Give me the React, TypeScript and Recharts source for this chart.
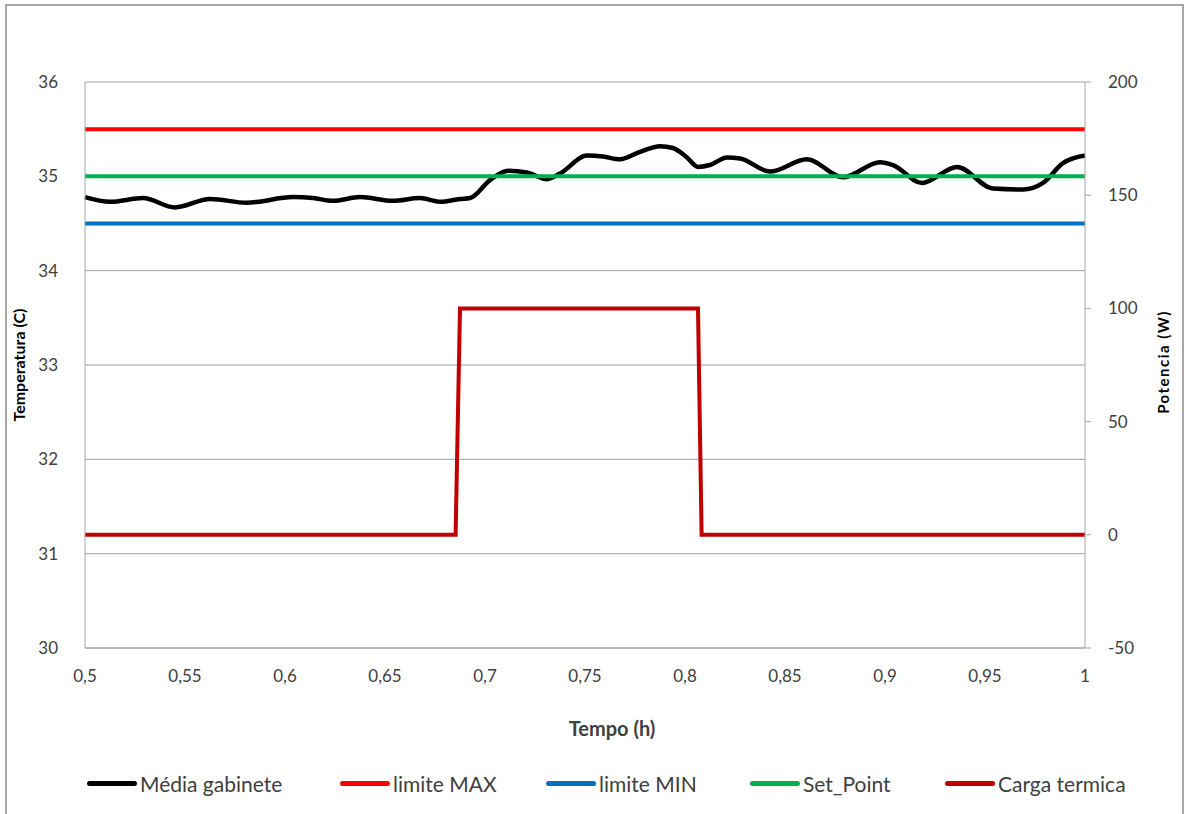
import React from 'react';
import {
  LineChart,
  Line,
  XAxis,
  YAxis,
  CartesianGrid,
  Legend,
} from 'recharts';

// Tempo (h) / temperatura média do gabinete (C)
const mediaTempo = [
  0.5, 0.5125, 0.529, 0.545, 0.5625, 0.581, 0.604, 0.614, 0.624, 0.6375, 0.654, 0.6675,
  0.6775, 0.6875, 0.6925, 0.7025, 0.7115, 0.721, 0.731, 0.7375, 0.751, 0.759, 0.7675,
  0.7775, 0.7875, 0.794, 0.801, 0.8065, 0.8125, 0.821, 0.8275, 0.8425, 0.861, 0.879,
  0.8975, 0.904, 0.9185, 0.936, 0.954, 0.969, 0.979, 0.989, 1.0,
];
const mediaValores = [
  34.78, 34.73, 34.77, 34.67, 34.76, 34.72, 34.78, 34.77, 34.74, 34.78, 34.74, 34.77,
  34.73, 34.76, 34.77, 34.96, 35.06, 35.04, 34.97, 35.03, 35.22, 35.21, 35.18,
  35.26, 35.32, 35.3, 35.2, 35.1, 35.12, 35.2, 35.19, 35.05, 35.18, 34.99,
  35.15, 35.12, 34.93, 35.1, 34.87, 34.86, 34.93, 35.14, 35.22,
];

// Carga termica (W)
const cargaTempo = [0.5, 0.6853, 0.6875, 0.8065, 0.8083, 1.0];
const cargaValores = [0, 0, 100, 100, 0, 0];

const limiteTempo = [0.5, 1.0];
const limiteMax = 35.5;
const limiteMin = 34.5;
const setPoint = 35;

const xTicks = [0.5, 0.55, 0.6, 0.65, 0.7, 0.75, 0.8, 0.85, 0.9, 0.95, 1];
const tempTicks = [30, 31, 32, 33, 34, 35, 36];
const potTicks = [-50, 0, 50, 100, 150, 200];

const mediaData = mediaTempo.map((t, i) => ({ t, v: mediaValores[i] }));
const cargaData = cargaTempo.map((t, i) => ({ t, v: cargaValores[i] }));
const maxData = limiteTempo.map((t) => ({ t, v: limiteMax }));
const minData = limiteTempo.map((t) => ({ t, v: limiteMin }));
const spData = limiteTempo.map((t) => ({ t, v: setPoint }));

const FONT = 'Lato, "Open Sans", sans-serif';
const TEXT = '#404040';
const AXIS = '#a6a6a6';

// legend entries, with the left edge of each entry
const legendItems = [
  { name: 'Média gabinete', color: '#000000', left: 87 },
  { name: 'limite MAX', color: '#ff0000', left: 340 },
  { name: 'limite MIN', color: '#0070c0', left: 546 },
  { name: 'Set_Point', color: '#00b050', left: 750 },
  { name: 'Carga termica', color: '#c00000', left: 945 },
];

const fmt = (v: number) => String(v).replace('.', ',');

const renderLegend = () => (
  <div style={{ position: 'relative', height: 26, fontFamily: FONT, fontSize: 21, color: TEXT }}>
    {legendItems.map((it) => (
      <div
        key={it.name}
        style={{ position: 'absolute', left: it.left, top: 0, display: 'flex', alignItems: 'center', whiteSpace: 'nowrap' }}
      >
        <span style={{ display: 'inline-block', width: 50, height: 5, borderRadius: 3, background: it.color, marginRight: 3 }} />
        <span>{it.name}</span>
      </div>
    ))}
  </div>
);

const App: React.FC = () => {
  return (
    <div style={{ position: 'absolute', left: 0, top: 0, width: 1189, height: 814, background: '#fff' }}>
      <div
        style={{
          position: 'absolute',
          left: 5,
          top: 4,
          width: 1179,
          height: 812,
          border: '2px solid #a6a6a6',
          boxSizing: 'border-box',
        }}
      />
      <LineChart
        width={1189}
        height={814}
        margin={{ top: 82, right: 0, bottom: 66, left: 0 }}
        style={{ position: 'absolute', left: 0, top: 0 }}
      >
        <CartesianGrid yAxisId="temp" vertical={false} stroke="#a0a0a0" strokeWidth={1} />
        <XAxis
          dataKey="t"
          type="number"
          domain={[0.5, 1]}
          ticks={xTicks}
          tickFormatter={fmt}
          allowDuplicatedCategory={false}
          height={100}
          tickSize={0}
          tickMargin={22}
          stroke={AXIS}
          tick={{ fill: TEXT, fontSize: 17, fontFamily: FONT }}
          label={{
            content: (p: any) => (
              <text
                x={612}
                y={p.viewBox.y + 88}
                textAnchor="middle"
                fontFamily={FONT}
                fontWeight="bold"
                fontSize={20}
                fill={TEXT}
              >
                Tempo (h)
              </text>
            ),
          }}
        />
        <YAxis
          yAxisId="temp"
          orientation="left"
          width={85}
          domain={[30, 36]}
          ticks={tempTicks}
          tickSize={0}
          tickMargin={27}
          stroke={AXIS}
          tick={{ fill: TEXT, fontSize: 17, fontFamily: FONT }}
          label={{
            content: (p: any) => (
              <text
                x={25}
                y={p.viewBox.y + p.viewBox.height / 2}
                transform={`rotate(-90 25 ${p.viewBox.y + p.viewBox.height / 2})`}
                textAnchor="middle"
                fontFamily={FONT}
                fontWeight="bold"
                fontSize={16}
                fill="#000"
              >
                Temperatura (C)
              </text>
            ),
          }}
        />
        <YAxis
          yAxisId="pot"
          orientation="right"
          width={104}
          domain={[-50, 200]}
          ticks={potTicks}
          tickSize={6}
          tickMargin={17}
          stroke={AXIS}
          tick={{ fill: TEXT, fontSize: 17, fontFamily: FONT }}
          label={{
            content: (p: any) => (
              <text
                x={1169}
                y={p.viewBox.y + p.viewBox.height / 2 - 3}
                transform={`rotate(-90 1169 ${p.viewBox.y + p.viewBox.height / 2 - 3})`}
                textAnchor="middle"
                fontFamily={FONT}
                fontWeight="bold"
                fontSize={15}
                letterSpacing={1.5}
                fill="#000"
              >
                Potencia (W)
              </text>
            ),
          }}
        />
        <Legend
          layout="vertical"
          align="center"
          verticalAlign="middle"
          content={renderLegend}
          wrapperStyle={{ top: 771, left: 0, width: 1189 }}
        />
        <Line
          yAxisId="temp"
          data={mediaData}
          dataKey="v"
          name="Média gabinete"
          type="monotone"
          stroke="#000000"
          strokeWidth={4.5}
          dot={false}
          isAnimationActive={false}
        />
        <Line
          yAxisId="temp"
          data={maxData}
          dataKey="v"
          name="limite MAX"
          stroke="#ff0000"
          strokeWidth={4}
          dot={false}
          isAnimationActive={false}
        />
        <Line
          yAxisId="temp"
          data={minData}
          dataKey="v"
          name="limite MIN"
          stroke="#0070c0"
          strokeWidth={4}
          dot={false}
          isAnimationActive={false}
        />
        <Line
          yAxisId="temp"
          data={spData}
          dataKey="v"
          name="Set_Point"
          stroke="#00b050"
          strokeWidth={4}
          dot={false}
          isAnimationActive={false}
        />
        <Line
          yAxisId="pot"
          data={cargaData}
          dataKey="v"
          name="Carga termica"
          type="linear"
          stroke="#c00000"
          strokeWidth={4}
          dot={false}
          isAnimationActive={false}
        />
      </LineChart>
    </div>
  );
};

export default App;
